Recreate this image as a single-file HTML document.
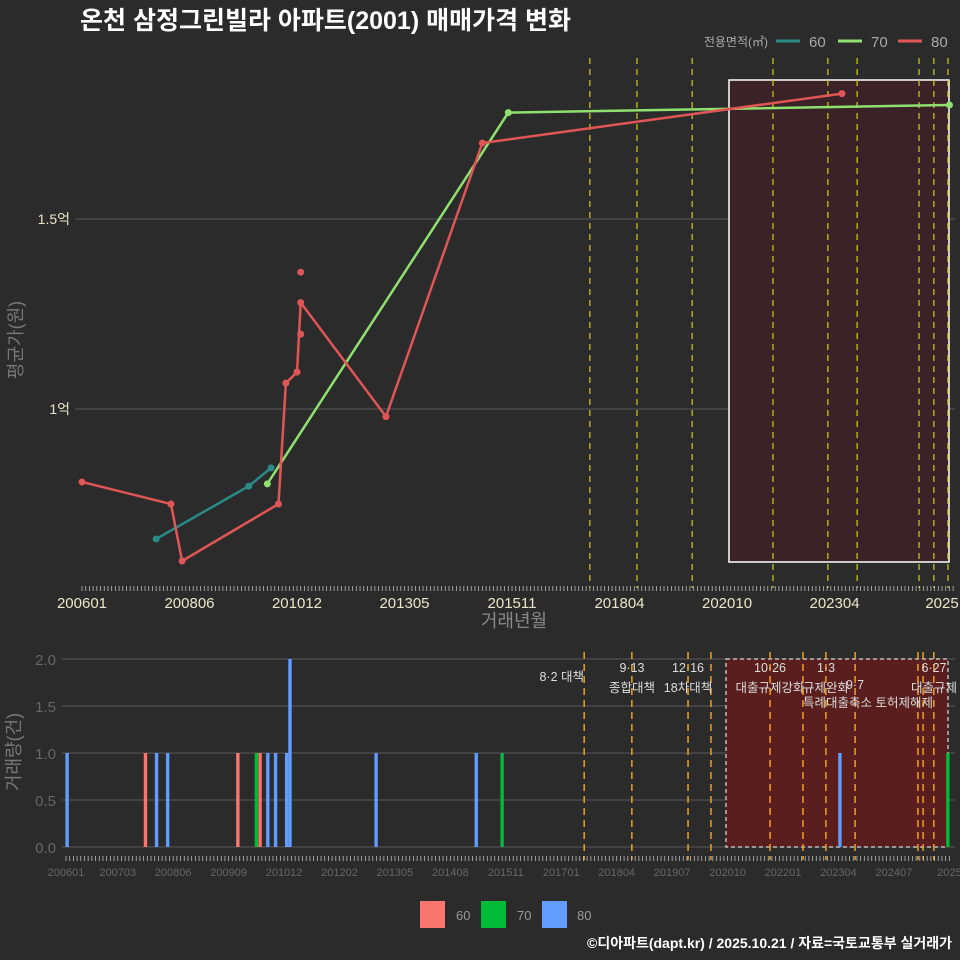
<!DOCTYPE html>
<html><head><meta charset="utf-8">
<style>
body{margin:0;background:#2b2b2c;}
svg{display:block;font-family:"Liberation Sans","Noto Sans CJK KR",sans-serif;}
</style></head>
<body>
<svg id="c" width="960" height="960" viewBox="0 0 960 960">
<rect width="960" height="960" fill="#2b2b2c"/>
<text x="80" y="29" font-size="25" font-weight="bold" fill="#ffffff">온천 삼정그린빌라 아파트(2001) 매매가격 변화</text>
<g id="topPanel"></g>
<g id="botPanel"></g>
<g>
<text x="768" y="46" font-size="12" fill="#aaaaaa" text-anchor="end">전용면적(㎡)</text>
<line x1="776" y1="41" x2="800" y2="41" stroke="#2a8a86" stroke-width="3"/>
<text x="809" y="47" font-size="15" fill="#aaaaaa">60</text>
<line x1="838" y1="41" x2="862" y2="41" stroke="#90e070" stroke-width="3"/>
<text x="871" y="47" font-size="15" fill="#aaaaaa">70</text>
<line x1="898" y1="41" x2="922" y2="41" stroke="#e05555" stroke-width="3"/>
<text x="931" y="47" font-size="15" fill="#aaaaaa">80</text>
</g>
<g>
<rect x="420" y="901" width="25" height="27" fill="#f8766d"/>
<text x="456" y="920" font-size="13" fill="#999">60</text>
<rect x="481" y="901" width="25" height="27" fill="#00ba38"/>
<text x="517" y="920" font-size="13" fill="#999">70</text>
<rect x="542" y="901" width="25" height="27" fill="#619cff"/>
<text x="577" y="920" font-size="13" fill="#999">80</text>
</g>
<text x="952" y="948" font-size="14" font-weight="bold" fill="#ffffff" text-anchor="end">©디아파트(dapt.kr) / 2025.10.21 / 자료=국토교통부 실거래가</text>
</svg>
<script>
// ---- top chart data (month index from 2006-01, price in 억) ----
const topTickLabels = ["200601","200806","201012","201305","201511","201804","202010","202304","2025"];
const topTickMonths = [0,29,58,87,116,145,174,203,232];
const yTickLabels = ["1억","1.5억"];
const yTickValues = [1.0,1.5];
const s60Months = [20,45,51];
const s60Values = [0.658,0.797,0.845];
const s70Months = [50,115,234];
const s70Values = [0.803,1.78,1.80];
const s80Months = [0,24,27,53,55,58,59,82,108,205];
const s80Values = [0.808,0.75,0.60,0.75,1.068,1.097,1.28,0.98,1.70,1.83];
const s80ExtraMonths = [59,59];
const s80ExtraValues = [1.197,1.36];
const topEventMonths = [137,149.7,164.6,186.4,201.2,209.1,225.8,229.8,233.6];
// ---- bottom chart data ----
const botTickLabels = ["200601","200703","200806","200909","201012","201202","201305","201408","201511","201701","201804","201907","202010","202201","202304","202407","2025"];
const botTickMonths = [0,14,29,44,59,74,89,104,119,134,149,164,179,194,209,224,239];
const volYLabels = ["0.0","0.5","1.0","1.5","2.0"];
const volYValues = [0,0.5,1,1.5,2];
const bar60Months = [21.5,46.5,52.5];
const bar60Counts = [1,1,1];
const bar70Months = [51.5,118,238.6];
const bar70Counts = [1,1,1];
const bar80Months = [0.3,24.5,27.5,54.6,56.7,59.7,60.6,83.9,111,209.4];
const bar80Counts = [1,1,1,1,1,1,2,1,1,1];
const botEventMonths = [140.2,153.1,168.3,174.5,190.5,199.4,205.6,213.5,230.5,231.9,234.8];
const eventTexts = [["8·2 대책",584,681,"end"],["9·13",632,672,"middle"],["종합대책",632,692,"middle"],["12·16",688,672,"middle"],["18차대책",688,692,"middle"],["10·26",770,672,"middle"],["대출규제강화",770,692,"middle"],["1·3",826,672,"middle"],["규제완화",826,692,"middle"],["9·7",855,689,"middle"],["특례대출축소 토허제해제",868,707,"middle"],["6·27",934,672,"middle"],["대출규제",934,692,"middle"]];

const NS="http://www.w3.org/2000/svg";
function mk(p,tag,a){const e=document.createElementNS(NS,tag);for(const k in a)e.setAttribute(k,a[k]);p.appendChild(e);return e;}
const tx=m=>82+3.707*m, ty=v=>409-(v-1)*380;
const bx=m=>66+3.696*m, by=v=>847-v*94;
const topG=document.getElementById('topPanel'), botG=document.getElementById('botPanel');

yTickValues.forEach((v,i)=>{
 let l=mk(topG,'line',{x1:75,x2:955,y1:ty(v),y2:ty(v),stroke:'#5a5a5a','stroke-width':1});
 
 
 let t=mk(topG,'text',{x:70,y:ty(v)+5,'font-size':14,fill:'#e8e8c8','text-anchor':'end'});t.textContent=yTickLabels[i];
 
 
});
let box=mk(topG,'rect',{x:729,y:80,width:220,height:482,fill:'#3b2226',stroke:'#ffffff','stroke-width':1.5});


topEventMonths.forEach(m=>{
 let l=mk(topG,'line',{x1:tx(m),x2:tx(m),y1:58,y2:588,stroke:'#c8c020','stroke-width':1.3,'stroke-dasharray':'6,5'});
 
 
});
for(let m=0;m<=235;m++){mk(topG,'line',{x1:tx(m),x2:tx(m),y1:586,y2:591,stroke:'#bbb','stroke-width':0.8});}
topTickMonths.forEach((m,i)=>{
 let t=mk(topG,'text',{x:tx(m),y:608,'font-size':15,fill:'#e8e8c8','text-anchor':'middle'});t.textContent=topTickLabels[i];
 
 
});
let xt=mk(topG,'text',{x:514,y:627,'font-size':18,fill:'#888','text-anchor':'middle'});xt.textContent='거래년월';


let yt=mk(topG,'text',{x:22,y:340,'font-size':18,fill:'#777','text-anchor':'middle',transform:'rotate(-90 22 340)'});yt.textContent='평균가(원)';


function series(ms,vs,col,name){
 let p=mk(topG,'polyline',{points:ms.map((m,i)=>tx(m)+','+ty(vs[i])).join(' '),fill:'none',stroke:col,'stroke-width':2.5});
 
 
 ms.forEach((m,i)=>{let c=mk(topG,'circle',{cx:tx(m),cy:ty(vs[i]),r:3.5,fill:col});
 
 });
}
series(s60Months,s60Values,'#2a8a86','series-60');
series(s70Months,s70Values,'#90e070','series-70');
series(s80Months,s80Values,'#e05555','series-80');
s80ExtraMonths.forEach((m,i)=>{let c=mk(topG,'circle',{cx:tx(m),cy:ty(s80ExtraValues[i]),r:3.5,fill:'#e05555'});
 
 });

volYValues.forEach((v,i)=>{
 let l=mk(botG,'line',{x1:62,x2:955,y1:by(v),y2:by(v),stroke:'#5a5a5a','stroke-width':1});
 
 
 let t=mk(botG,'text',{x:56,y:by(v)+6,'font-size':15,fill:'#666','text-anchor':'end'});t.textContent=volYLabels[i];
 
 
});
let bb=mk(botG,'rect',{x:726,y:659,width:222,height:188,fill:'#5a1e1e',stroke:'#bbbbbb','stroke-width':1.5,'stroke-dasharray':'4,3'});


botEventMonths.forEach(m=>{
 let l=mk(botG,'line',{x1:bx(m),x2:bx(m),y1:652,y2:860,stroke:'#f0a020','stroke-width':1.5,'stroke-dasharray':'7,5'});
 
 
});
function bars(ms,cs,col,name){
 ms.forEach((m,i)=>{let r=mk(botG,'rect',{x:bx(m)-1.7,y:by(cs[i]),width:3.4,height:cs[i]*94,fill:col});
 
 });
}
bars(bar60Months,bar60Counts,'#f8766d','bar-60');
bars(bar70Months,bar70Counts,'#00ba38','bar-70');
bars(bar80Months,bar80Counts,'#619cff','bar-80');
eventTexts.forEach(e=>{let t=mk(botG,'text',{x:e[1],y:e[2],'font-size':12.5,fill:'#dddddd','text-anchor':e[3]});t.textContent=e[0];
 
 });
for(let m=0;m<=239;m++){mk(botG,'line',{x1:bx(m),x2:bx(m),y1:856,y2:861,stroke:'#bbb','stroke-width':0.8});}
botTickMonths.forEach((m,i)=>{
 let t=mk(botG,'text',{x:bx(m),y:876,'font-size':11,fill:'#666','text-anchor':'middle'});t.textContent=botTickLabels[i];
 
 
});
let vt=mk(botG,'text',{x:20,y:752,'font-size':18,fill:'#777','text-anchor':'middle',transform:'rotate(-90 20 752)'});vt.textContent='거래량(건)';


</script>
</body></html>
